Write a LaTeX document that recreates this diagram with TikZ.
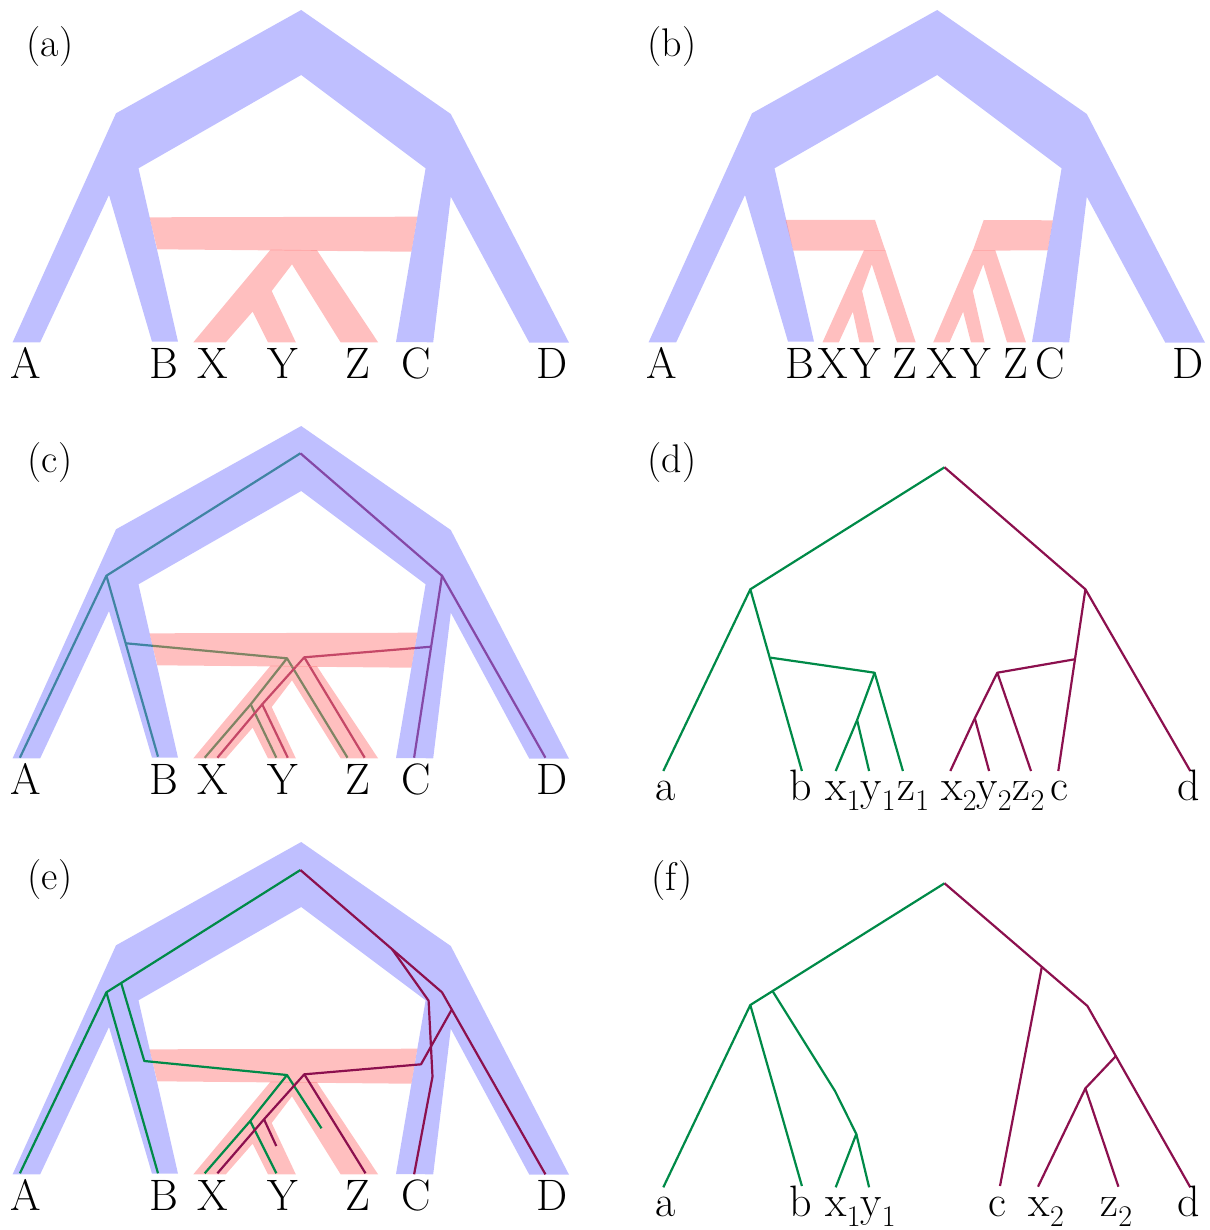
\documentclass[tikz,border=0pt]{standalone}
\definecolor{bluefill}{RGB}{128,128,255}
\definecolor{pinkfill}{RGB}{255,128,128}
\definecolor{lgreen}{RGB}{0,138,72}
\definecolor{lmaroon}{RGB}{140,16,78}
\newcommand{\mybluetree}{%
  \fill[blueshape] (12.6,342.3) -- (116,113.3) -- (301.2,10) -- (450.8,114) -- (569,342.7) -- (529.3,342.7) -- (450.8,196.7) -- (433.2,342.3) -- (396,342) -- (425.6,168.3) -- (301.2,75) -- (138.5,168.3) -- (178,341.7) -- (152,341.7) -- (109,195) -- (40.2,342.3) -- cycle;}
\newcommand{\mypinkone}{%
  \fill[pinkshape] (149.6,217.3) -- (417.3,216.7) -- (411.4,251.7) -- (157.3,249.3) -- cycle;
  \fill[pinkshape] (270.6,249.6) -- (193.3,342.3) -- (225.8,342.3) -- (252.6,311.7) -- (268,342.3) -- (295.8,342.3) -- (271.7,291) -- (292,264.3) -- (340.6,342.3) -- (378.1,342.3) -- (316.9,250.2) -- cycle;}
\newcommand{\myleaves}{%
  \node[leaf] (A) at (26,378) {A};
  \node[leaf] (B) at (163.8,378) {B};
  \node[leaf] (X) at (213,378) {X};
  \node[leaf] (Y) at (283.2,378) {Y};
  \node[leaf] (Z) at (357.8,378) {Z};
  \node[leaf] (C) at (416.4,378) {C};
  \node[leaf] (D) at (552.2,378) {D};}
\newcommand{\mysub}[2]{#1\raisebox{-5pt}{\fontsize{15}{15}\selectfont #2}}
\begin{document}
\begin{tikzpicture}[x=0.5pt,y=-0.5pt,
  blueshape/.style={fill=bluefill,fill opacity=0.5},
  pinkshape/.style={fill=pinkfill,fill opacity=0.5},
  gline/.style={draw=lgreen,line width=1.1pt,line join=round},
  mline/.style={draw=lmaroon,line width=1.1pt,line join=round},
  leaf/.style={font=\fontsize{22}{26}\selectfont,anchor=base,inner sep=0pt},
  sleaf/.style={font=\fontsize{22}{26}\selectfont,anchor=base west,inner sep=0pt},
  plabel/.style={font=\fontsize{20}{24}\selectfont,inner sep=0pt}]
\useasboundingbox (0,0) rectangle (1209,1230);

% ---------------- (a)
\begin{scope}[name prefix=a-]
  \mybluetree
  \mypinkone
  \myleaves
  \node[plabel] (lab) at (50,47) {(a)};
\end{scope}

% ---------------- (b)
\begin{scope}[shift={(636,0)},name prefix=bb-]
  \mybluetree
\end{scope}
\begin{scope}[name prefix=b-]
  \fill[pinkshape] (785.5,220) -- (875,220) -- (885.4,250.7) -- (793.3,250.7) -- cycle;
  \fill[pinkshape] (864,250.2) -- (822.5,342.3) -- (838.8,342.3) -- (852.8,311.7) -- (859.4,342.3) -- (874.2,342.3) -- (862.1,291) -- (871.8,264.3) -- (897,342.3) -- (915.7,342.3) -- (885.4,250.2) -- cycle;
  \fill[pinkshape] (983.7,220) -- (1052.8,220.3) -- (1047.7,250.3) -- (972.8,250.7) -- cycle;
  \fill[pinkshape] (972.8,250.2) -- (933.2,342.3) -- (949.5,342.3) -- (963.1,311.7) -- (970.9,342.3) -- (984.5,342.3) -- (972.8,291) -- (983.3,264.3) -- (1007,342.3) -- (1026,342.3) -- (995.3,250.2) -- cycle;
  \node[leaf] (A) at (662,378) {A};
  \node[leaf] (B) at (800,378) {B};
  \node[leaf] (X1) at (833,378) {X};
  \node[leaf] (Y1) at (866,378) {Y};
  \node[leaf] (Z1) at (905,378) {Z};
  \node[leaf] (X2) at (941.7,378) {X};
  \node[leaf] (Y2) at (976,378) {Y};
  \node[leaf] (Z2) at (1015.5,378) {Z};
  \node[leaf] (C) at (1050.5,378) {C};
  \node[leaf] (D) at (1188.3,378) {D};
  \node[plabel] (lab) at (672,47) {(b)};
\end{scope}

% ---------------- (c)
\begin{scope}[name prefix=c-]
  \coordinate (root) at (300.4,453.3);
  \coordinate (L) at (106.4,575.7);
  \coordinate (R) at (442,575.7);
  \coordinate (tA) at (19.9,757.7);
  \coordinate (tB) at (158,756.7);
  \coordinate (nB) at (126,643.3);
  \coordinate (gX) at (287,658.3);
  \coordinate (gXY) at (250.7,704.3);
  \coordinate (gtX) at (204.7,757.7);
  \coordinate (gtY) at (276.3,757.7);
  \coordinate (gtZ) at (347.5,757.7);
  \coordinate (tC) at (414.1,757.7);
  \coordinate (tD) at (545.4,757.7);
  \coordinate (nC) at (431.2,646.7);
  \coordinate (mX) at (304.3,657.3);
  \coordinate (mXY) at (262.2,704.3);
  \coordinate (mtX) at (217.4,757.7);
  \coordinate (mtY) at (287.8,757.7);
  \coordinate (mtZ) at (364.7,757.7);
  \draw[gline] (tA) -- (L) -- (root);
  \draw[gline] (L) -- (tB);
  \draw[gline] (nB) -- (gX) -- (gXY) -- (gtX);
  \draw[gline] (gXY) -- (gtY);
  \draw[gline] (gX) -- (gtZ);
  \draw[mline] (root) -- (R) -- (tD);
  \draw[mline] (R) -- (tC);
  \draw[mline] (nC) -- (mX) -- (mXY) -- (mtX);
  \draw[mline] (mXY) -- (mtY);
  \draw[mline] (mX) -- (mtZ);
\end{scope}
\begin{scope}[shift={(0,416)},name prefix=cc-]
  \mybluetree
  \mypinkone
  \myleaves
  \node[plabel] (lab) at (50,47) {(c)};
\end{scope}

% ---------------- (d)
\begin{scope}[name prefix=d-]
  \coordinate (root) at (944.5,467.3);
  \coordinate (L) at (750.3,589.3);
  \coordinate (R) at (1085.4,589.3);
  \coordinate (ta) at (663.3,771);
  \coordinate (tb) at (801.9,771);
  \coordinate (nb) at (770.9,657.7);
  \coordinate (n1) at (874.6,672.7);
  \coordinate (n1xy) at (857.1,720);
  \coordinate (tx1) at (835.7,771);
  \coordinate (ty1) at (869.1,771);
  \coordinate (tz1) at (902.9,771);
  \coordinate (tc) at (1058.3,771);
  \coordinate (nc) at (1074.6,659.3);
  \coordinate (n2) at (997.3,672.7);
  \coordinate (n2xy) at (974.8,718.3);
  \coordinate (tx2) at (950.3,771);
  \coordinate (ty2) at (989.1,771);
  \coordinate (tz2) at (1031,771);
  \coordinate (td) at (1190.3,771);
  \draw[gline] (ta) -- (L) -- (root);
  \draw[gline] (L) -- (tb);
  \draw[gline] (nb) -- (n1) -- (n1xy) -- (tx1);
  \draw[gline] (n1xy) -- (ty1);
  \draw[gline] (n1) -- (tz1);
  \draw[mline] (root) -- (R) -- (td);
  \draw[mline] (R) -- (tc);
  \draw[mline] (nc) -- (n2) -- (n2xy) -- (tx2);
  \draw[mline] (n2xy) -- (ty2);
  \draw[mline] (n2) -- (tz2);
  \node[sleaf] (a) at (655.5,800) {a};
  \node[sleaf] (b) at (789,800) {b};
  \node[sleaf] (x1) at (825.2,800) {\mysub{x}{1}};
  \node[sleaf] (y1) at (860.2,800) {\mysub{y}{1}};
  \node[sleaf] (z1) at (897,800) {\mysub{z}{1}};
  \node[sleaf] (x2) at (941,800) {\mysub{x}{2}};
  \node[sleaf] (y2) at (976,800) {\mysub{y}{2}};
  \node[sleaf] (z2) at (1012.4,800) {\mysub{z}{2}};
  \node[sleaf] (c) at (1049.7,800) {c};
  \node[sleaf] (d) at (1177.5,800) {d};
  \node[plabel] (lab) at (672,463) {(d)};
\end{scope}

% ---------------- (e)
\begin{scope}[shift={(0,832)},name prefix=ee-]
  \mybluetree
  \mypinkone
  \myleaves
  \node[plabel] (lab) at (50,48) {(e)};
\end{scope}
\begin{scope}[name prefix=e-]
  \coordinate (root) at (300.4,870);
  \coordinate (L) at (106.4,992.3);
  \coordinate (tA) at (19.9,1173.3);
  \coordinate (tB) at (158,1173.3);
  \coordinate (gn) at (121.3,983.5);
  \coordinate (gb) at (144.3,1061);
  \coordinate (gX) at (287,1075);
  \coordinate (gXY) at (250.2,1121);
  \coordinate (gtX) at (204.7,1173.3);
  \coordinate (gtY) at (276.3,1173.3);
  \coordinate (gZe) at (321.5,1128.3);
  \coordinate (R) at (442,992.3);
  \coordinate (mn) at (392.3,949.5);
  \coordinate (mc1) at (428.6,1000.7);
  \coordinate (mc2) at (432.5,1076.7);
  \coordinate (tC) at (414.1,1174.3);
  \coordinate (tD) at (545.4,1174.3);
  \coordinate (md) at (451.5,1010);
  \coordinate (mx) at (421,1064.3);
  \coordinate (mX) at (304.3,1074.3);
  \coordinate (mXY) at (264,1119.3);
  \coordinate (mtX) at (217.4,1173.3);
  \coordinate (mYe) at (276.3,1146);
  \coordinate (mtZ) at (365.5,1173.3);
  \draw[gline] (tA) -- (L) -- (root);
  \draw[gline] (L) -- (tB);
  \draw[gline] (gn) -- (gb) -- (gX) -- (gXY) -- (gtX);
  \draw[gline] (gXY) -- (gtY);
  \draw[gline] (gX) -- (gZe);
  \draw[mline] (root) -- (R) -- (tD);
  \draw[mline] (mn) -- (mc1) -- (mc2) -- (tC);
  \draw[mline] (md) -- (mx) -- (mX) -- (mXY) -- (mtX);
  \draw[mline] (mXY) -- (mYe);
  \draw[mline] (mX) -- (mtZ);
\end{scope}

% ---------------- (f)
\begin{scope}[name prefix=f-]
  \coordinate (root) at (944.5,883.3);
  \coordinate (L) at (750.3,1005);
  \coordinate (ta) at (663.3,1187.3);
  \coordinate (tb) at (801.9,1186);
  \coordinate (gn) at (772.8,991.5);
  \coordinate (gk) at (835,1091);
  \coordinate (gxy) at (856.3,1134);
  \coordinate (tx1) at (835.7,1187.3);
  \coordinate (ty1) at (869.1,1187.3);
  \coordinate (mn) at (1042,966);
  \coordinate (R) at (1087.4,1006);
  \coordinate (td) at (1190.3,1187.3);
  \coordinate (tc) at (1000,1186);
  \coordinate (md) at (1115.3,1056.7);
  \coordinate (mxz) at (1085.4,1088.3);
  \coordinate (tx2) at (1038,1186.7);
  \coordinate (tz2) at (1118.4,1186.7);
  \draw[gline] (ta) -- (L) -- (root);
  \draw[gline] (L) -- (tb);
  \draw[gline] (gn) -- (gk) -- (gxy) -- (tx1);
  \draw[gline] (gxy) -- (ty1);
  \draw[mline] (root) -- (R) -- (td);
  \draw[mline] (mn) -- (tc);
  \draw[mline] (md) -- (mxz) -- (tx2);
  \draw[mline] (mxz) -- (tz2);
  \node[sleaf] (a) at (655.5,1216.7) {a};
  \node[sleaf] (b) at (789,1216.7) {b};
  \node[sleaf] (x1) at (825.2,1216.7) {\mysub{x}{1}};
  \node[sleaf] (y1) at (860.2,1216.7) {\mysub{y}{1}};
  \node[sleaf] (c) at (987.6,1216.7) {c};
  \node[sleaf] (x2) at (1028.3,1216.7) {\mysub{x}{2}};
  \node[sleaf] (z2) at (1100.2,1216.7) {\mysub{z}{2}};
  \node[sleaf] (d) at (1177.5,1216.7) {d};
  \node[plabel] (lab) at (672,881) {(f)};
\end{scope}
\end{tikzpicture}
\end{document}
